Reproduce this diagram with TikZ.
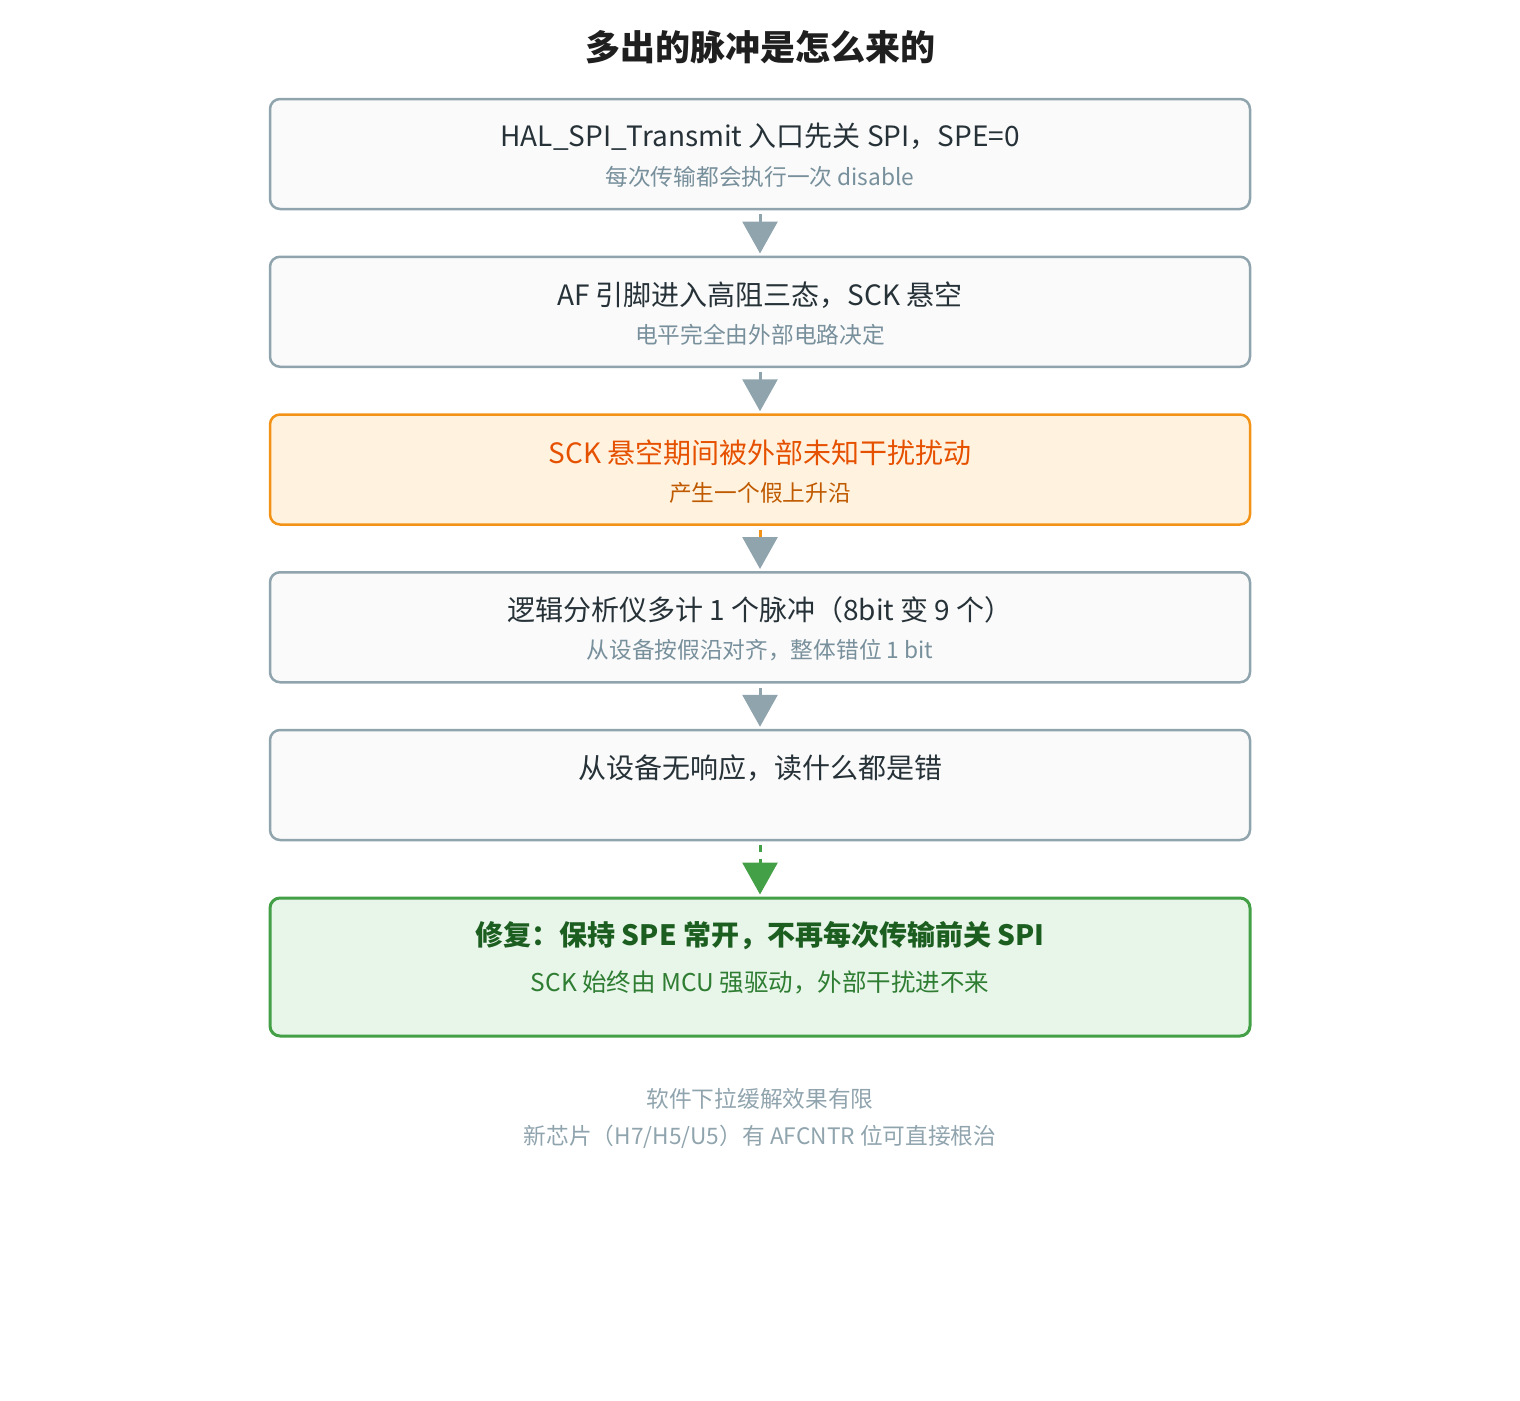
\documentclass[tikz,border=0pt]{standalone}
\usepackage{fontspec}
\setmainfont{Noto Sans CJK SC}
\usetikzlibrary{arrows.meta}
\definecolor{stepline}{HTML}{90A4AE}
\definecolor{stepfill}{HTML}{FAFAFA}
\definecolor{steptext}{HTML}{263238}
\definecolor{stepsub}{HTML}{78909C}
\definecolor{warnline}{HTML}{F29318}
\definecolor{warnfill}{HTML}{FFF3E0}
\definecolor{warntext}{HTML}{E65100}
\definecolor{warnsub}{HTML}{BF5A00}
\definecolor{fixline}{HTML}{43A047}
\definecolor{fixfill}{HTML}{E8F5E9}
\definecolor{fixtext}{HTML}{1B5E20}
\definecolor{fixsub}{HTML}{2E7D32}
\def\dist{157.75}

\tikzset{
  stepbox/.style={draw=stepline, fill=stepfill, line width=2.5pt, rounded corners=10pt,
    minimum width=980pt, minimum height=110pt, inner sep=0pt},
  warnbox/.style={stepbox, draw=warnline, fill=warnfill},
  fixbox/.style={stepbox, draw=fixline, fill=fixfill, line width=3pt, minimum height=138pt},
  maintext/.style={text=steptext, font=\fontsize{28}{34}\selectfont, inner sep=0pt},
  subtext/.style={text=stepsub, font=\fontsize{22.7}{27}\selectfont, inner sep=0pt},
  flow/.style={draw=stepline, line width=3pt, shorten <=4pt, shorten >=2pt,
    -{Triangle[width=35pt,length=32pt]}},
}

\begin{document}
\begin{tikzpicture}[x=1pt,y=-1pt]
  \useasboundingbox (0,0) rectangle (1520,1400);

  \node[text=black!88, font=\fontsize{35}{40}\selectfont\bfseries] (title) at (760,47) {多出的脉冲是怎么来的};

  \node[stepbox] (b1) at (760,154) {};
  \node[stepbox] (b2) at (760,154+\dist) {};
  \node[warnbox] (b3) at (760,154+2*\dist) {};
  \node[stepbox] (b4) at (760,154+3*\dist) {};
  \node[stepbox] (b5) at (760,154+4*\dist) {};
  \node[fixbox] (b6) at (760,967) {};

  \node[maintext] (m1) at (760,137) {HAL\_SPI\_Transmit 入口先关 SPI，SPE=0};
  \node[subtext] (s1) at (760,177) {每次传输都会执行一次 disable};
  \node[maintext] (m2) at (760,137+\dist) {AF 引脚进入高阻三态，SCK 悬空};
  \node[subtext] (s2) at (760,177+\dist) {电平完全由外部电路决定};
  \node[maintext, text=warntext] (m3) at (760,137+2*\dist) {SCK 悬空期间被外部未知干扰扰动};
  \node[subtext, text=warnsub] (s3) at (760,177+2*\dist) {产生一个假上升沿};
  \node[maintext] (m4) at (760,137+3*\dist) {逻辑分析仪多计 1 个脉冲（8bit 变 9 个）};
  \node[subtext] (s4) at (760,177+3*\dist) {从设备按假沿对齐，整体错位 1 bit};
  \node[maintext] (m5) at (760,137+4*\dist) {从设备无响应，读什么都是错};
  \node[maintext, text=fixtext, font=\fontsize{28}{34}\selectfont\bfseries] (m6) at (760,936) {修复：保持 SPE 常开，不再每次传输前关 SPI};
  \node[subtext, text=fixsub, font=\fontsize{24.5}{29}\selectfont] (s6) at (760,982) {SCK 始终由 MCU 强驱动，外部干扰进不来};

  \node[subtext, text=stepline] (n1) at (760,1099) {软件下拉缓解效果有限};
  \node[subtext, text=stepline] (n2) at (760,1137) {新芯片（H7/H5/U5）有 AFCNTR 位可直接根治};

  \draw[flow] (b1) -- (b2);
  \draw[flow] (b2) -- (b3);
  \draw[flow, draw=warnline, -{Triangle[width=35pt,length=32pt,color=stepline]}] (b3) -- (b4);
  \draw[flow] (b4) -- (b5);
  \draw[flow, draw=fixline, dash pattern=on 7pt off 7pt] (b5) -- (b6);
\end{tikzpicture}
\end{document}
